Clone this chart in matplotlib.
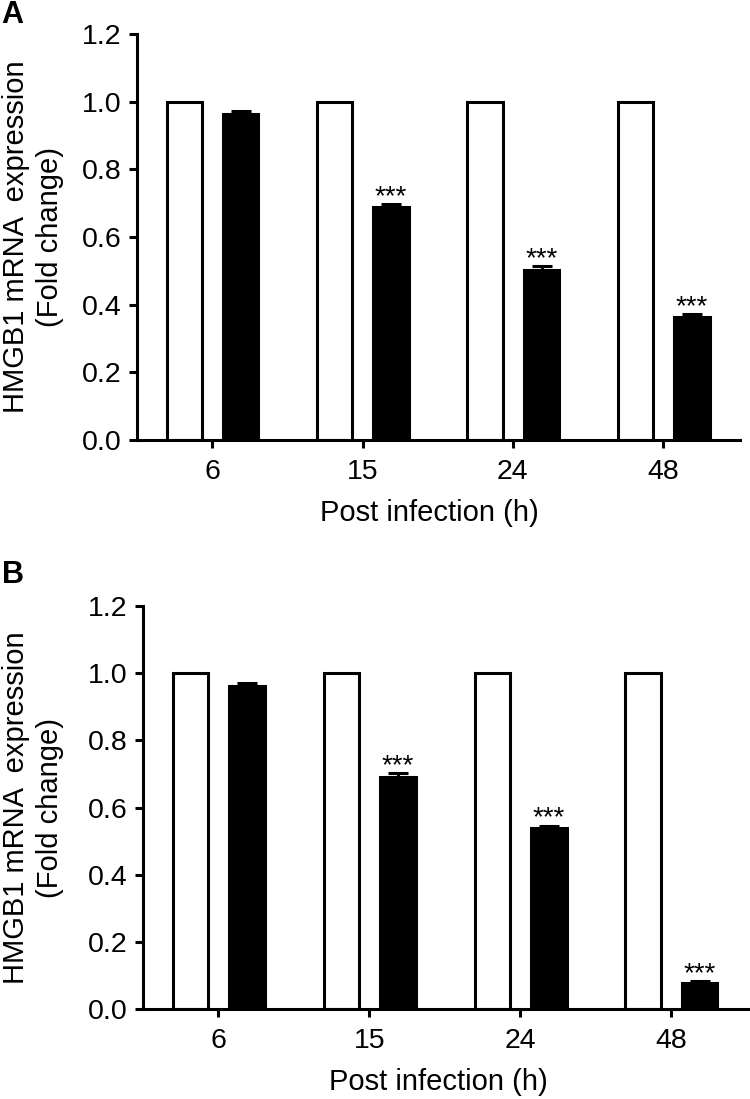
import matplotlib
matplotlib.use("Agg")
import matplotlib.pyplot as plt
import numpy as np

plt.rcParams['font.family'] = ['Liberation Sans', 'DejaVu Sans']

categories = ["6", "15", "24", "48"]
control_A = [1.0, 1.0, 1.0, 1.0]
infected_A = [0.964, 0.688, 0.501, 0.365]
err_A = [0.007, 0.009, 0.012, 0.008]
control_B = [1.0, 1.0, 1.0, 1.0]
infected_B = [0.961, 0.691, 0.538, 0.078]
err_B = [0.010, 0.012, 0.008, 0.006]
sig_A = ["", "***", "***", "***"]
sig_B = ["", "***", "***", "***"]
yticks = [0.0, 0.2, 0.4, 0.6, 0.8, 1.0, 1.2]

W, H = 750, 1099
fig = plt.figure(figsize=(W / 100, H / 100), dpi=100)


def panel(left, right, top, bottom, ctrl, inf, err, sig, letter, letter_top, xlabel_cx):
    ax = fig.add_axes([left / W, 1 - bottom / H, (right - left) / W, (bottom - top) / H])
    x = np.arange(len(categories))
    w = 0.235
    lw = 2.2
    ax.bar(x - 0.185, ctrl, width=w, color='white', edgecolor='black', linewidth=lw, zorder=2)
    ax.bar(x + 0.19, inf, width=w, color='black', edgecolor='black', linewidth=lw, zorder=2)
    ax.errorbar(x + 0.19, inf, yerr=[np.zeros(len(err)), err], fmt='none',
                ecolor='black', elinewidth=lw, capsize=7, capthick=lw, zorder=3)
    for xi, v, e, s in zip(x, inf, err, sig):
        if s:
            ax.annotate(s, xy=(xi + 0.19, v + e), xytext=(0, 0), textcoords='offset points',
                        ha='center', va='baseline', fontsize=20)
    ax.set_xlim(-0.5, 3.51)
    ax.set_ylim(0, 1.2)
    ax.set_xticks(x)
    ax.set_xticklabels(categories)
    ax.set_yticks(yticks)
    ax.set_yticklabels([f"{t:.1f}" for t in yticks])
    for sp in ['top', 'right']:
        ax.spines[sp].set_visible(False)
    for sp in ['left', 'bottom']:
        ax.spines[sp].set_linewidth(2.2)
    ax.tick_params(axis='both', width=2.2, length=6, labelsize=20.5, direction='out')
    ax.tick_params(axis='x', pad=8)
    ax.tick_params(axis='y', pad=5)
    cy = 1 - (top + bottom) / 2 / H
    fig.text(33 / W, cy, "HMGB1 mRNA  expression\n(Fold change)", rotation=90,
             ha='center', va='center', multialignment='center', fontsize=21, linespacing=1.3)
    fig.text(xlabel_cx / W, 1 - (bottom + 73) / H, "Post infection (h)",
             ha='center', va='center', fontsize=21)
    fig.text(0.002, 1 - letter_top / H, letter, fontsize=22, fontweight='bold', va='top', ha='left')
    return ax


panel(137, 740, 34, 440, control_A, infected_A, err_A, sig_A, "A", 0, 429)
panel(143, 748, 606, 1009, control_B, infected_B, err_B, sig_B, "B", 560, 438)

fig.savefig("out.png", dpi=100)
